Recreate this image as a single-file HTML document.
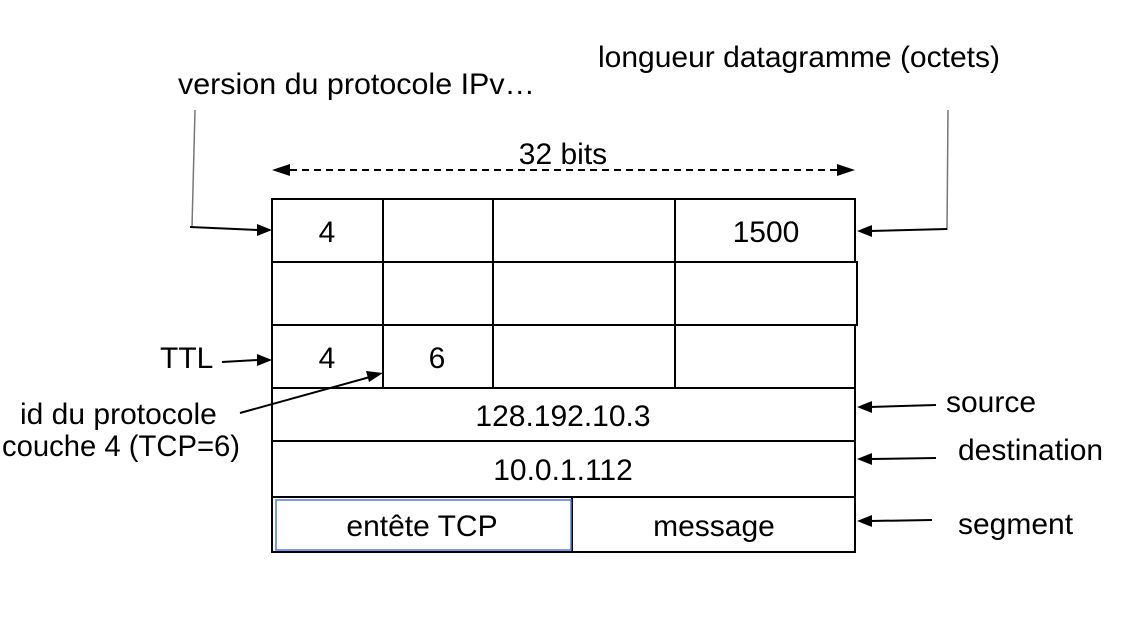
<!DOCTYPE html>
<html><head><meta charset="utf-8"><style>
html,body{margin:0;padding:0;background:#fff;}
svg{display:block;}
text{font-family:"Liberation Sans",Arial,sans-serif;font-size:30px;fill:#000;}
</style></head><body>
<svg width="1124" height="622" viewBox="0 0 1124 622" xmlns="http://www.w3.org/2000/svg">
<g stroke="#000" stroke-width="2" fill="none">
<rect x="272" y="199" width="583" height="63"/>
<rect x="272" y="262" width="585" height="63"/>
<rect x="272" y="325" width="583" height="63"/>
<rect x="272" y="388" width="583" height="53"/>
<rect x="272" y="441" width="583" height="56"/>
<rect x="272" y="497" width="583" height="55"/>
<line x1="383" y1="199" x2="383" y2="388"/>
<line x1="493" y1="199" x2="493" y2="388"/>
<line x1="675" y1="199" x2="675" y2="388"/>
<line x1="572" y1="497" x2="572" y2="552"/>
</g>
<rect x="276" y="500" width="295" height="50" fill="none" stroke="#5577dd" stroke-width="1.5"/>
<line x1="278" y1="170" x2="849" y2="170" stroke="#000" stroke-width="2" stroke-dasharray="7,5"/>
<path d="M272,170 L290,164 L290,176 Z"/>
<path d="M855,170 L837,164 L837,176 Z"/>
<g stroke="#000" stroke-width="2" fill="none">
<polyline points="195,110 192,227" stroke="#777" stroke-width="1.5"/>
<line x1="190" y1="227" x2="258" y2="230"/>
<polyline points="948,110 947,230" stroke="#777" stroke-width="1.5"/>
<line x1="947" y1="229" x2="870" y2="231"/>
<line x1="222" y1="362" x2="258" y2="360"/>
<line x1="240" y1="413" x2="370" y2="377"/>
<line x1="936" y1="405" x2="870" y2="407"/>
<line x1="936" y1="458" x2="870" y2="459"/>
<line x1="932" y1="520" x2="870" y2="521"/>
</g>
<path d="M272,230 L257,224 L257,236 Z"/>
<path d="M857,231 L872,225 L872,237 Z"/>
<path d="M272,360 L257,354 L257,366 Z"/>
<path d="M383,373 L366,371 L369,382 Z"/>
<path d="M857,407 L872,401 L872,413 Z"/>
<path d="M857,459 L872,453 L872,465 Z"/>
<path d="M857,521 L872,515 L872,527 Z"/>
<text x="178" y="94" textLength="357" lengthAdjust="spacingAndGlyphs">version du protocole IPv…</text>
<text x="598" y="67" textLength="402" lengthAdjust="spacingAndGlyphs">longueur datagramme (octets)</text>
<text x="563" y="164" text-anchor="middle">32 bits</text>
<text x="327" y="242" text-anchor="middle">4</text>
<text x="766" y="242" text-anchor="middle">1500</text>
<text x="160" y="368">TTL</text>
<text x="327" y="368" text-anchor="middle">4</text>
<text x="437" y="368" text-anchor="middle">6</text>
<text x="20" y="424">id du protocole</text>
<text x="2" y="456" textLength="238" lengthAdjust="spacingAndGlyphs">couche 4 (TCP=6)</text>
<text x="563" y="426" text-anchor="middle">128.192.10.3</text>
<text x="563" y="480" text-anchor="middle">10.0.1.112</text>
<text x="422" y="536" text-anchor="middle">entête TCP</text>
<text x="714" y="536" text-anchor="middle">message</text>
<text x="946" y="412">source</text>
<text x="958" y="460">destination</text>
<text x="958" y="534">segment</text>
</svg>
</body></html>
